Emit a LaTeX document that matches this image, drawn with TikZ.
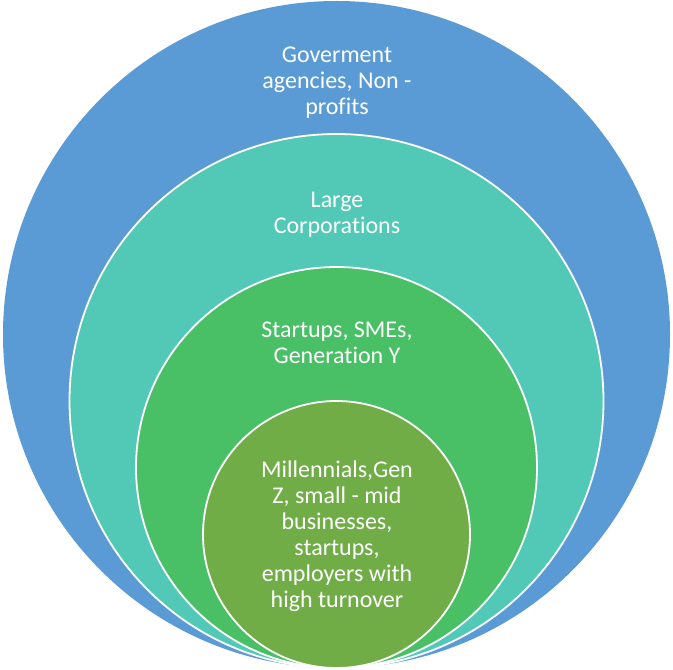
\documentclass[tikz,border=0pt]{standalone}
\usepackage{fontspec}
\setmainfont[Ligatures=NoCommon]{Carlito}
\definecolor{cblue}{HTML}{5B9BD5}
\definecolor{cteal}{HTML}{52C9B6}
\definecolor{cgreen}{HTML}{49BF66}
\definecolor{colive}{HTML}{70AD47}
\tikzset{
  ring/.style={draw=white, line width=1.8bp},
  lbl/.style={text=white, align=center, anchor=base, inner sep=0pt,
    font=\fontsize{24bp}{26bp}\selectfont}
}
\begin{document}
\begin{tikzpicture}[x=1bp,y=-1bp]
\useasboundingbox (0,0) rectangle (673,670);
\fill[cblue] (336.5,334.5) circle[radius=333.5];
\filldraw[ring, fill=cteal] (336.5,401) circle[radius=267];
\filldraw[ring, fill=cgreen] (336.5,467.5) circle[radius=200.5];
\filldraw[ring, fill=colive] (336.5,534.5) circle[radius=133.5];
\node[lbl] (l1) at (337,115) {Goverment\\agencies, Non -\\profits};
\node[lbl] (l2) at (337,233) {Large\\Corporations};
\node[lbl] (l3) at (337,363) {Startups, SMEs,\\Generation Y};
\node[lbl] (l4) at (337,607) {Millennials,Gen\\Z, small - mid\\businesses,\\startups,\\employers with\\high turnover};
\end{tikzpicture}
\end{document}
